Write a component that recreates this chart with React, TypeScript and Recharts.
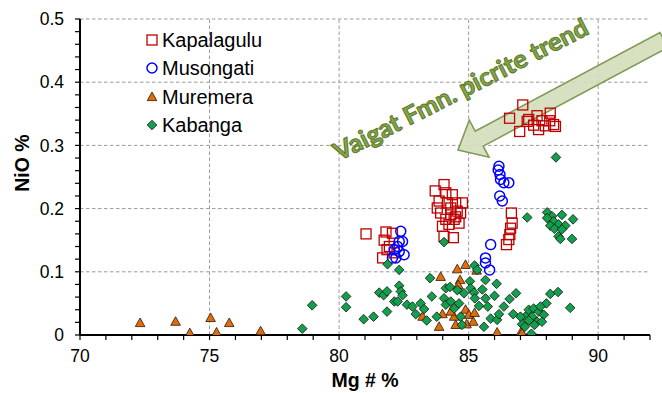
import React from 'react';
import {
  ScatterChart,
  Scatter,
  XAxis,
  YAxis,
  ReferenceLine,
  ReferenceDot,
  Legend,
  Label,
} from 'recharts';

type Pt = { mg: number; nio: number };
const toPts = (rows: number[][]): Pt[] => rows.map(([mg, nio]) => ({ mg, nio }));

// Mg# (%) vs NiO (%) for olivine from each intrusion
const kapalagulu = toPts([
  [81.04, 0.16], [81.81, 0.163], [81.74, 0.15], [81.85, 0.135], [81.68, 0.122], [82.06, 0.161],
  [81.94, 0.14], [82.13, 0.13],
  [84.05, 0.238], [83.71, 0.228], [84.12, 0.225], [84.37, 0.222], [83.86, 0.212], [83.79, 0.201],
  [84.18, 0.209], [84.5, 0.209], [84.76, 0.209], [84.56, 0.196], [84.69, 0.193], [84.31, 0.19],
  [84.44, 0.183], [84.12, 0.183], [83.99, 0.172], [84.24, 0.175], [84.63, 0.177], [84.05, 0.156],
  [84.41, 0.154], [84.31, 0.201], [83.92, 0.193], [84.5, 0.187],
  [86.65, 0.193], [86.68, 0.177], [86.62, 0.169], [86.59, 0.159], [86.55, 0.151], [86.46, 0.143],
  [87.09, 0.364], [86.58, 0.343], [87.26, 0.338], [86.97, 0.322], [87.64, 0.347], [88.15, 0.351],
  [87.51, 0.332], [87.83, 0.339], [88.28, 0.333], [87.96, 0.331], [88.35, 0.33], [87.7, 0.325],
  [87.32, 0.341], [88.13, 0.339],
]);

const musongati = toPts([
  [82.38, 0.164], [82.32, 0.148], [82.45, 0.148], [82.26, 0.14], [82.13, 0.135], [82.51, 0.127],
  [82.06, 0.122], [82.19, 0.122], [82.32, 0.132],
  [86.17, 0.267], [86.14, 0.261], [86.21, 0.254], [86.23, 0.246], [86.36, 0.241], [86.55, 0.241],
  [86.2, 0.22], [86.3, 0.212], [85.85, 0.143], [85.65, 0.122], [85.65, 0.114], [85.81, 0.103],
]);

const muremera = toPts([
  [72.32, 0.019], [73.69, 0.021], [74.24, 0.003], [75.04, 0.027], [75.27, 0.004], [75.76, 0.019],
  [76.97, 0.006],
  [84.56, 0.104], [84.88, 0.111], [85.31, 0.102], [83.92, 0.092], [84.67, 0.087], [84.6, 0.079],
  [83.22, 0.029], [83.86, 0.013], [83.99, 0.033], [84.44, 0.029], [84.5, 0.016], [84.88, 0.04],
  [85.01, 0.032], [85.23, 0.035], [84.92, 0.017], [85.18, 0.021], [86.1, 0.004], [87.03, 0.005],
  [87.06, 0.003], [84.31, 0.037],
]);

const kabanga = toPts([
  [78.58, 0.01], [78.96, 0.047], [80.27, 0.061], [80.27, 0.044], [80.95, 0.025], [81.33, 0.029],
  [81.85, 0.037], [81.55, 0.067], [81.72, 0.063], [81.85, 0.069], [81.87, 0.112], [82.32, 0.103],
  [82.32, 0.078], [82.38, 0.069], [82.45, 0.063], [82.13, 0.053], [82.26, 0.053], [82.62, 0.048],
  [82.83, 0.045], [82.96, 0.033], [83.15, 0.05], [83.28, 0.041], [83.38, 0.023], [83.51, 0.09],
  [83.58, 0.061], [83.77, 0.029], [84.05, 0.147], [84.12, 0.074], [84.28, 0.076], [84.05, 0.058],
  [84.12, 0.048], [84.31, 0.053], [84.44, 0.042], [84.56, 0.071], [84.63, 0.05], [84.69, 0.029],
  [84.74, 0.016], [84.82, 0.066], [85.05, 0.085], [85.08, 0.074], [85.21, 0.067], [85.23, 0.11],
  [85.33, 0.103], [85.24, 0.058], [85.4, 0.046], [85.53, 0.072], [85.65, 0.058], [85.65, 0.087],
  [85.74, 0.045], [85.59, 0.013], [85.85, 0.026], [86.0, 0.062], [86.08, 0.081], [86.1, 0.024],
  [86.17, 0.033], [86.36, 0.045], [86.58, 0.057], [86.72, 0.033], [86.83, 0.066], [87.26, 0.186],
  [87.06, 0.017], [87.17, 0.013], [87.42, 0.002], [87.19, 0.029], [87.32, 0.04], [87.51, 0.042],
  [87.45, 0.029], [87.64, 0.021], [87.71, 0.037], [87.9, 0.032], [88.0, 0.05], [88.15, 0.065],
  [88.45, 0.068], [88.92, 0.043], [87.32, 0.023], [87.0, 0.029], [87.54, 0.016], [87.83, 0.021],
  [87.77, 0.045],
  [88.03, 0.194], [88.22, 0.188], [88.6, 0.19], [88.03, 0.185], [88.28, 0.18], [88.47, 0.175],
  [88.73, 0.173], [89.03, 0.183], [88.15, 0.173], [88.31, 0.168], [88.47, 0.156], [88.54, 0.152],
  [88.99, 0.152], [88.6, 0.167], [88.37, 0.281],
]);

// Axis ticks: minor every 1 Mg# and every 0.02 NiO, labelled at the majors
const xDomain: [number, number] = [70, 92];
const yDomain: [number, number] = [0, 0.5];
const xMajor = [70, 75, 80, 85, 90];
const yMajor = [0, 0.1, 0.2, 0.3, 0.4, 0.5];
const xTicks = Array.from({ length: 23 }, (_, i) => 70 + i);
const yTicks = Array.from({ length: 26 }, (_, i) => Math.round(i * 2) / 100);

// Trend arrow (tip, tail) and its caption, in data units
const trendTip = { x: 84.59, y: 0.2927 };
const trendTail = { x: 92.54, y: 0.4668 };
const trendCaption = { x: 84.85, y: 0.376, text: 'Vaigat Fmn. picrite trend' };

const FONT = '"Liberation Sans", Arial, sans-serif';
const RED = '#C00000';
const BLUE = '#0000FF';
const ORANGE = '#E36C0A';
const GREEN = '#12A04C';

const SquareMark = ({ cx, cy }: any) => (
  <rect x={cx - 5} y={cy - 5} width={10} height={10} fill="none" stroke={RED} strokeWidth={1.3} />
);
const CircleMark = ({ cx, cy }: any) => (
  <circle cx={cx} cy={cy} r={5} fill="none" stroke={BLUE} strokeWidth={1.5} />
);
const TriangleMark = ({ cx, cy }: any) => (
  <polygon
    points={`${cx},${cy - 5} ${cx + 4.8},${cy + 3.6} ${cx - 4.8},${cy + 3.6}`}
    fill={ORANGE}
    stroke="#2b1a0a"
    strokeWidth={0.8}
  />
);
const DiamondMark = ({ cx, cy }: any) => (
  <polygon
    points={`${cx},${cy - 4.8} ${cx + 4.8},${cy} ${cx},${cy + 4.8} ${cx - 4.8},${cy}`}
    fill={GREEN}
    stroke="#111"
    strokeWidth={0.8}
  />
);

const ArrowShape = (p: any) => {
  const { x1, y1, x2, y2 } = p;
  const dx = x2 - x1;
  const dy = y2 - y1;
  const len = Math.hypot(dx, dy) || 1;
  const ux = dx / len;
  const uy = dy / len;
  const nx = -uy;
  const ny = ux;
  const headLen = 24;
  const headHalf = 21;
  const shaftHalf = 8.5;
  const bx = x1 + ux * headLen;
  const by = y1 + uy * headLen;
  const pts = [
    [x1, y1],
    [bx + nx * headHalf, by + ny * headHalf],
    [bx + nx * shaftHalf, by + ny * shaftHalf],
    [x2 + nx * shaftHalf, y2 + ny * shaftHalf],
    [x2 - nx * shaftHalf, y2 - ny * shaftHalf],
    [bx - nx * shaftHalf, by - ny * shaftHalf],
    [bx - nx * headHalf, by - ny * headHalf],
  ]
    .map(([a, b]) => `${a},${b}`)
    .join(' ');
  return (
    <polygon points={pts} fill="#D3DEBA" fillOpacity={0.9} stroke="#7D9852" strokeWidth={1.5} />
  );
};

const CaptionShape = ({ cx, cy }: any) => (
  <text
    x={cx}
    y={cy}
    textAnchor="middle"
    transform={`rotate(-27 ${cx} ${cy})`}
    fontFamily='Lato, "Open Sans", sans-serif'
    fontWeight={700}
    fontSize={25}
    textLength={282}
    lengthAdjust="spacingAndGlyphs"
    fill="#86A64A"
    stroke="#5B7A2A"
    strokeWidth={1}
  >
    {trendCaption.text}
  </text>
);

const legendItems = [
  { name: 'Kapalagulu', Mark: SquareMark },
  { name: 'Musongati', Mark: CircleMark },
  { name: 'Muremera', Mark: TriangleMark },
  { name: 'Kabanga', Mark: DiamondMark },
];

const LegendBox = () => (
  <div style={{ fontFamily: FONT, fontSize: 20, color: '#000' }}>
    {legendItems.map(({ name, Mark }) => (
      <div key={name} style={{ display: 'flex', alignItems: 'center', height: 28.3 }}>
        <svg width={14} height={14} style={{ marginRight: 3 }}>
          <Mark cx={7} cy={7} />
        </svg>
        <span style={{ lineHeight: '20px' }}>{name}</span>
      </div>
    ))}
  </div>
);

const fmtX = (v: number) => (xMajor.includes(v) ? String(v) : '');
const fmtY = (v: number) => {
  const r = Math.round(v * 100) / 100;
  if (!yMajor.includes(r)) return '';
  return r === 0 ? '0' : r.toFixed(1);
};

const tickStyle = { fontSize: 17.5, fill: '#000', fontFamily: FONT };

export default function App() {
  return (
    <div style={{ position: 'absolute', left: 0, top: 0, background: '#fff' }}>
      <ScatterChart width={662} height={393} margin={{ top: 19, right: 12, bottom: 0, left: 0 }}>
        <XAxis
          type="number"
          dataKey="mg"
          domain={xDomain}
          ticks={xTicks}
          interval={0}
          tickFormatter={fmtX}
          tick={tickStyle}
          tickSize={5}
          tickMargin={10}
          height={58}
          axisLine={{ stroke: '#000', strokeWidth: 2 }}
          tickLine={{ stroke: '#000', strokeWidth: 1.2 }}
          allowDataOverflow
        >
          <Label
            content={({ viewBox }: any) => (
              <text
                x={viewBox.x + viewBox.width / 2}
                y={viewBox.y + 52}
                textAnchor="middle"
                fontFamily={FONT}
                fontWeight={700}
                fontSize={19.5}
                fill="#000"
              >
                Mg # %
              </text>
            )}
          />
        </XAxis>
        <YAxis
          type="number"
          dataKey="nio"
          domain={yDomain}
          ticks={yTicks}
          interval={0}
          tickFormatter={fmtY}
          tick={tickStyle}
          tickSize={5}
          tickMargin={11}
          width={80}
          axisLine={{ stroke: '#000', strokeWidth: 2 }}
          tickLine={{ stroke: '#000', strokeWidth: 1.2 }}
          allowDataOverflow
        >
          <Label
            content={({ viewBox }: any) => {
              const cx = 29;
              const cy = viewBox.y + viewBox.height / 2 - 14;
              return (
                <text
                  x={cx}
                  y={cy}
                  textAnchor="middle"
                  transform={`rotate(-90 ${cx} ${cy})`}
                  fontFamily={FONT}
                  fontWeight={700}
                  fontSize={19.5}
                  fill="#000"
                >
                  NiO %
                </text>
              );
            }}
          />
        </YAxis>

        {yMajor.slice(1).map((v) => (
          <ReferenceLine key={`h${v}`} y={v} stroke="#9A9A9A" strokeDasharray="3.5 2.5" strokeWidth={1} />
        ))}
        {xMajor.slice(1).map((v) => (
          <ReferenceLine key={`v${v}`} x={v} stroke="#9A9A9A" strokeDasharray="3.5 2.5" strokeWidth={1} />
        ))}

        <ReferenceLine segment={[trendTip, trendTail]} ifOverflow="visible" shape={ArrowShape} />
        <ReferenceDot x={trendCaption.x} y={trendCaption.y} r={0} shape={CaptionShape} />

        <Scatter name="Kapalagulu" data={kapalagulu} shape={SquareMark} isAnimationActive={false} />
        <Scatter name="Musongati" data={musongati} shape={CircleMark} isAnimationActive={false} />
        <Scatter name="Muremera" data={muremera} shape={TriangleMark} isAnimationActive={false} />
        <Scatter name="Kabanga" data={kabanga} shape={DiamondMark} isAnimationActive={false} />

        <Legend
          layout="vertical"
          align="center"
          verticalAlign="middle"
          content={LegendBox}
          wrapperStyle={{ left: 145, top: 26, width: 'auto', height: 'auto' }}
        />
      </ScatterChart>
    </div>
  );
}
